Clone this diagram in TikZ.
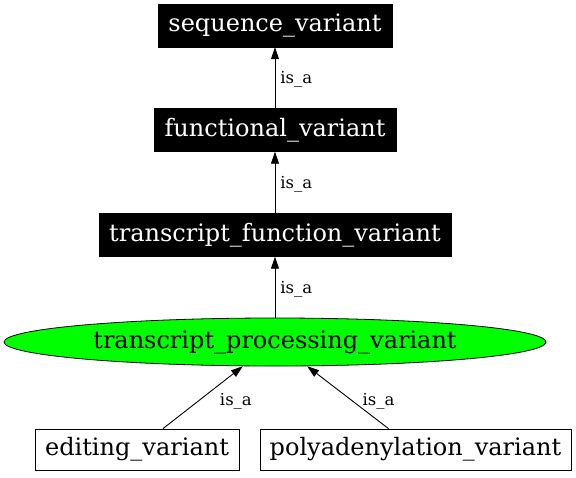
\documentclass[tikz,border=0pt]{standalone}
\usepackage{fontspec}
\setmainfont{DejaVu Serif}
\usetikzlibrary{arrows.meta,shapes.geometric}

\tikzset{
  termbox/.style={rectangle, draw=black, fill=black, text=white, inner sep=0pt, minimum height=43pt, font=\fontsize{24}{28}\selectfont},
  leafbox/.style={rectangle, draw=black, line width=0.8pt, fill=white, inner sep=0pt, minimum height=41pt, font=\fontsize{24}{28}\selectfont},
  greenell/.style={ellipse, draw=black, line width=0.8pt, fill={rgb,255:red,0;green,255;blue,0}, inner sep=0pt, minimum width=542pt, minimum height=48pt, font=\fontsize{24}{28}\selectfont},
  isa/.style={-{Triangle[length=12pt,width=8pt]}, black, line width=0.9pt},
  isalabel/.style={font=\fontsize{16.5}{19}\selectfont, inner sep=0pt, yshift=-2pt}
}

\begin{document}
\begin{tikzpicture}[x=1pt,y=-1pt]
\useasboundingbox (0,0) rectangle (576,477);
% nodes
\node [termbox, minimum width=234pt] (seqvar) at (275,25.5) {sequence\_variant};
\node [termbox, minimum width=242pt] (funcvar) at (275,130) {functional\_variant};
\node [termbox, minimum width=352pt] (tfvar) at (275,235) {transcript\_function\_variant};
\node [greenell] (tpvar) at (275,342) {transcript\_processing\_variant};
\node [leafbox, minimum width=204pt] (editvar) at (137,449.5) {editing\_variant};
\node [leafbox, minimum width=311pt] (polyvar) at (415.5,449.5) {polyadenylation\_variant};
% edges
\draw [isa] (funcvar) -- node [isalabel, right=5pt] {is\_a} (seqvar);
\draw [isa] (tfvar) -- node [isalabel, right=5pt] {is\_a} (funcvar);
\draw [isa] (tpvar) -- node [isalabel, right=5pt] {is\_a} (tfvar);
\draw [isa] ([xshift=26pt]editvar.north) -- node [isalabel, pos=0.47, right=19pt] {is\_a} (tpvar.-143);
\draw [isa] ([xshift=-27pt]polyvar.north) -- node [isalabel, pos=0.47, right=12pt] {is\_a} (tpvar.-37);
\end{tikzpicture}
\end{document}
